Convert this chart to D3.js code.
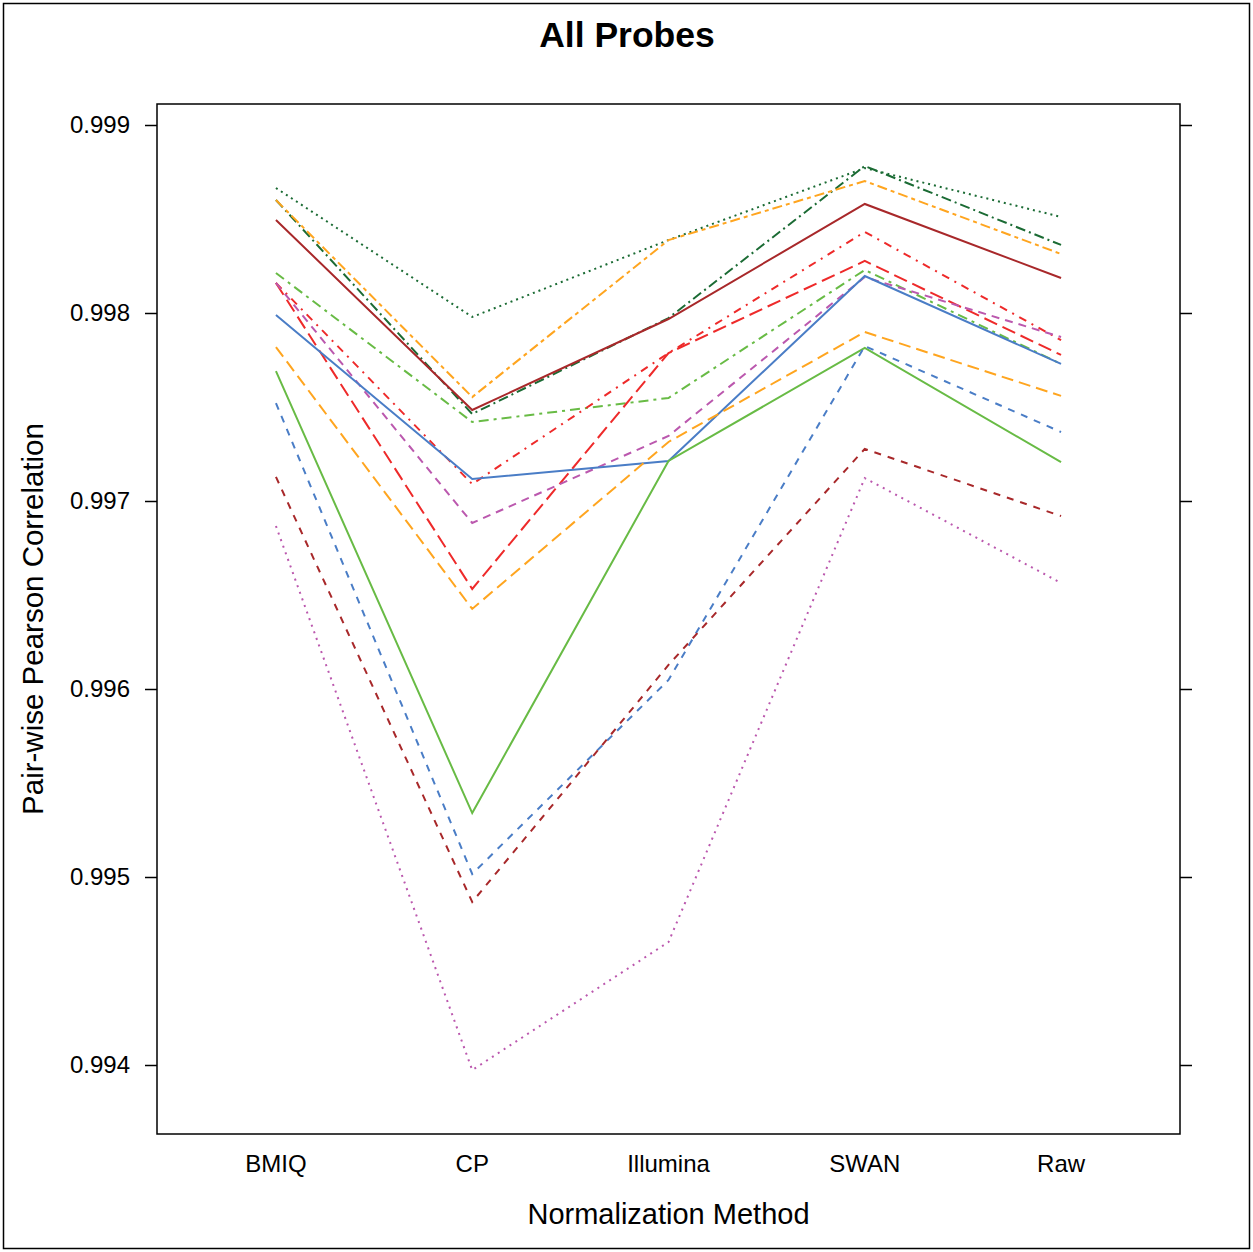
<!DOCTYPE html>
<html>
<head>
<meta charset="utf-8">
<script src="https://cdn.jsdelivr.net/npm/d3@7"></script>
<style>
  body { margin: 0; background: #fff; }
  svg { font-family: "Liberation Sans", Arial, sans-serif; }
</style>
</head>
<body>
<svg id="chart" width="1253" height="1252"></svg>
<script>
// data
var methods = ["BMIQ", "CP", "Illumina", "SWAN", "Raw"];
var yTicks = [0.994, 0.995, 0.996, 0.997, 0.998, 0.999];

var dkgreenDotted  = [0.998665, 0.997979, 0.998388, 0.998771, 0.998511];
var dkgreenDashdot = [0.998601, 0.997463, 0.997973, 0.998782, 0.998362];
var orangeTwodash  = [0.998601, 0.997553, 0.998388, 0.998702, 0.998314];
var brownSolid     = [0.998495, 0.997484, 0.997968, 0.998580, 0.998186];
var greenDashdot   = [0.998213, 0.997420, 0.997548, 0.998229, 0.997729];
var redDashdot     = [0.998160, 0.997090, 0.997787, 0.998431, 0.997856];
var redLongdash    = [0.998160, 0.996532, 0.997787, 0.998277, 0.997777];
var purpleDashed   = [0.998160, 0.996883, 0.997346, 0.998191, 0.997872];
var blueSolid      = [0.997989, 0.997117, 0.997213, 0.998197, 0.997729];
var greenSolid     = [0.997691, 0.995340, 0.997213, 0.997814, 0.997207];
var orangeLongdash = [0.997819, 0.996426, 0.997314, 0.997899, 0.997559];
var blueDashed     = [0.997521, 0.995016, 0.996048, 0.997824, 0.997367];
var brownDashed    = [0.997128, 0.994867, 0.996128, 0.997277, 0.996920];
var purpleDotted   = [0.996867, 0.993973, 0.994654, 0.997122, 0.996564];

var series = [
  { values: dkgreenDotted,  color: "#1b6b34", dash: "2,4" },
  { values: dkgreenDashdot, color: "#1b6b34", dash: "10,4,2,4" },
  { values: orangeTwodash,  color: "#ffa51f", dash: "10,4,4,4" },
  { values: brownSolid,     color: "#a8282a", dash: null },
  { values: greenDashdot,   color: "#68bb45", dash: "10,5,3,5" },
  { values: redDashdot,     color: "#ee2a2a", dash: "8,6,2,6" },
  { values: redLongdash,    color: "#ee2a2a", dash: "14,6" },
  { values: purpleDashed,   color: "#bb58ae", dash: "8,6" },
  { values: blueSolid,      color: "#4a7dc6", dash: null },
  { values: greenSolid,     color: "#68bb45", dash: null },
  { values: orangeLongdash, color: "#ffa51f", dash: "12,6" },
  { values: blueDashed,     color: "#4a7dc6", dash: "7,7" },
  { values: brownDashed,    color: "#a8282a", dash: "7,7" },
  { values: purpleDotted,   color: "#bb58ae", dash: "2,5" }
];

var svg = d3.select("#chart");
var W = 1253, H = 1252;
var pLeft = 157, pRight = 1180, pTop = 104, pBottom = 1134;

// outer frame
svg.append("rect").attr("x", 3.5).attr("y", 3.5).attr("width", W - 7).attr("height", H - 7)
  .attr("fill", "none").attr("stroke", "#000").attr("stroke-width", 1.5);

var x = d3.scalePoint().domain(methods).range([pLeft, pRight]).padding(0.606);
var y = d3.scaleLinear().domain([0.999 + 21 / 188000, 0.999 - 1009 / 188000]).range([pTop, pBottom]);

var line = d3.line().x(function(d, i) { return x(methods[i]); }).y(function(d) { return y(d); });

svg.append("g").selectAll("path")
  .data(series)
  .enter().append("path")
  .attr("d", function(d) { return line(d.values); })
  .attr("fill", "none")
  .attr("stroke", function(d) { return d.color; })
  .attr("stroke-width", 2)
  .attr("stroke-dasharray", function(d) { return d.dash; });

// panel border
svg.append("rect").attr("x", pLeft).attr("y", pTop).attr("width", pRight - pLeft).attr("height", pBottom - pTop)
  .attr("fill", "none").attr("stroke", "#000").attr("stroke-width", 1.5);

// y axes (left with labels, right ticks only)
var fmt = d3.format(".3f");
var yl = svg.append("g").attr("transform", "translate(" + pLeft + ",0)")
  .call(d3.axisLeft(y).tickValues(yTicks).tickFormat(fmt).tickSize(12).tickPadding(15));
yl.select(".domain").remove();
yl.selectAll("text").attr("font-size", 24).attr("font-family", "Liberation Sans, Arial, sans-serif").attr("fill", "#000");
yl.selectAll("line").attr("stroke-width", 1.5);

var yr = svg.append("g").attr("transform", "translate(" + pRight + ",0)")
  .call(d3.axisRight(y).tickValues(yTicks).tickFormat("").tickSize(12));
yr.select(".domain").remove();
yr.selectAll("line").attr("stroke-width", 1.5);

// x labels
svg.append("g").selectAll("text")
  .data(methods)
  .enter().append("text")
  .attr("x", function(d) { return x(d); })
  .attr("y", 1172)
  .attr("text-anchor", "middle")
  .attr("font-size", 24)
  .text(function(d) { return d; });

// titles
svg.append("text").attr("x", 627).attr("y", 47).attr("text-anchor", "middle")
  .attr("font-size", 35.5).attr("font-weight", "bold").text("All Probes");
svg.append("text").attr("x", (pLeft + pRight) / 2).attr("y", 1224).attr("text-anchor", "middle")
  .attr("font-size", 29).text("Normalization Method");
svg.append("text").attr("transform", "translate(43," + ((pTop + pBottom) / 2) + ") rotate(-90)")
  .attr("text-anchor", "middle").attr("font-size", 29.5).text("Pair-wise Pearson Correlation");
</script>
</body>
</html>
